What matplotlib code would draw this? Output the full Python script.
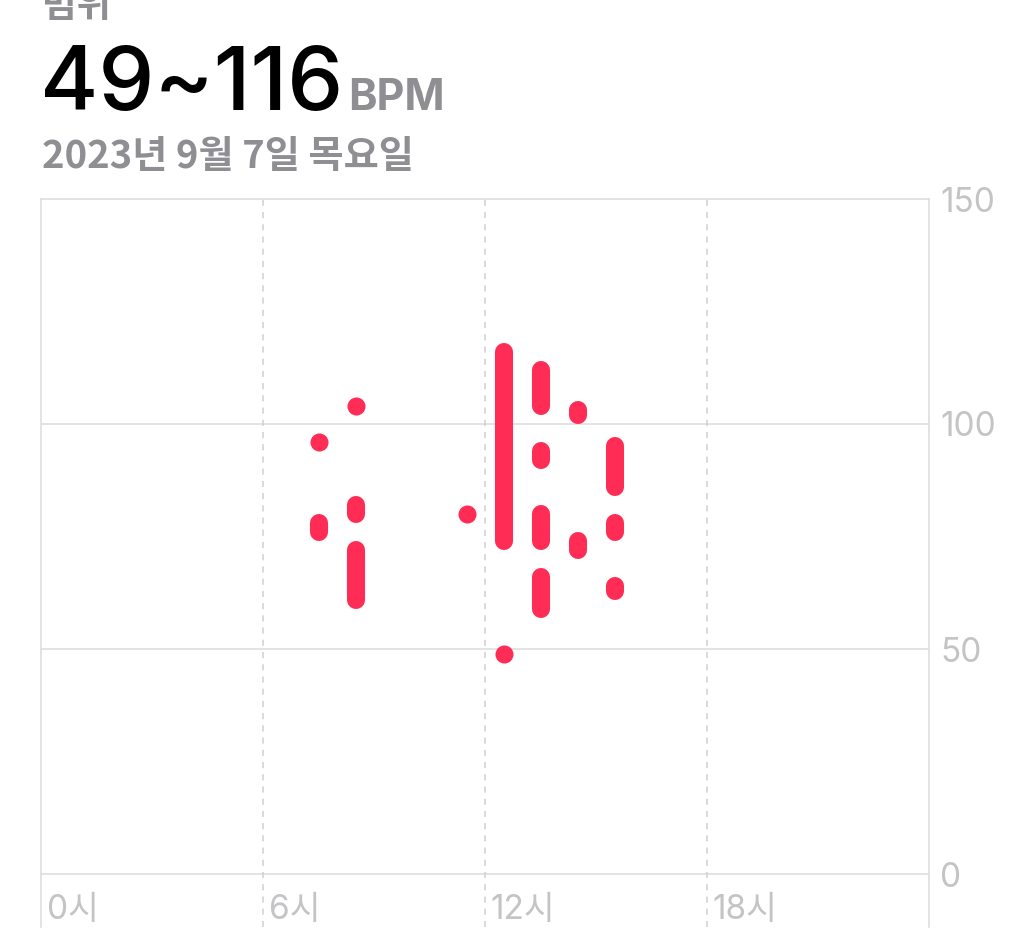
import matplotlib.pyplot as plt
import matplotlib

matplotlib.rcParams['font.family'] = ['Inter', 'Noto Sans CJK KR', 'DejaVu Sans']

# 시간(시), 최저/최고 심박수
hours = [7.5, 7.5, 8.5, 8.5, 8.5, 11.5, 12.5, 12.5, 13.5, 13.5, 13.5, 13.5, 14.5, 14.5, 15.5, 15.5, 15.5]
low = [96, 76, 104, 80, 61, 80, 74, 49, 104, 92, 74, 59, 102, 72, 86, 76, 63]
high = [96, 78, 104, 82, 72, 80, 116, 49, 112, 94, 80, 66, 103, 74, 95, 78, 64]

x_ticks = [0, 6, 12, 18]
x_labels = ['0시', '6시', '12시', '18시']
y_ticks = [0, 50, 100, 150]

red = '#FF2D55'
gray = '#8E8E93'
light = '#C4C4C6'
grid = '#DEDEDE'

fig = plt.figure(figsize=(10.24, 9.38), dpi=100)
ax = fig.add_axes([41/1024, 11/938, 888/1024, 728/938])
ax.set_xlim(0, 24)
ax.set_ylim(-53/4.5, 150)

# 가로 그리드
for v in y_ticks[:-1]:
    ax.axhline(v, color=grid, lw=1.2, zorder=1)
# 세로 점선
for h in x_ticks[1:]:
    ax.axvline(h, color='#CFCFCF', lw=1.1, ls=(0, (4, 4)), zorder=1)

for s in ['left', 'right', 'top']:
    ax.spines[s].set_color(grid)
    ax.spines[s].set_linewidth(1.2)
ax.spines['bottom'].set_visible(False)

# 범위 막대
for h, lo, hi in zip(hours, low, high):
    if hi > lo:
        ax.plot([h, h], [lo, hi], color=red, lw=13, solid_capstyle='round', zorder=3)
    else:
        ax.plot([h], [lo], 'o', color=red, markersize=13, markeredgewidth=0, zorder=3)

ax.set_xticks([])
ax.yaxis.tick_right()
ax.set_yticks(y_ticks)
ax.tick_params(axis='y', length=0, pad=8, labelsize=24, labelcolor=light)

for h, lab in zip(x_ticks, x_labels):
    ax.annotate(lab, (h, 0), xytext=(4, -26), textcoords='offset points',
                ha='left', va='center', fontsize=24, color=light)

# 제목
fig.text(42/1024, 1 - 17/938, '범위', fontsize=27, color=gray, fontweight='bold', va='baseline')
fig.text(40/1024, 1 - 110/938, '49~116', fontsize=64, color='black', fontweight='medium', va='baseline')
fig.text(348/1024, 1 - 110/938, 'BPM', fontsize=31, color=gray, fontweight='bold', va='baseline')
fig.text(42/1024, 1 - 168/938, '2023년 9월 7일 목요일', fontsize=27.5, color=gray, fontweight='bold',
         family=['Noto Sans CJK KR', 'DejaVu Sans'], va='baseline')

plt.savefig('out.png', dpi=100)
